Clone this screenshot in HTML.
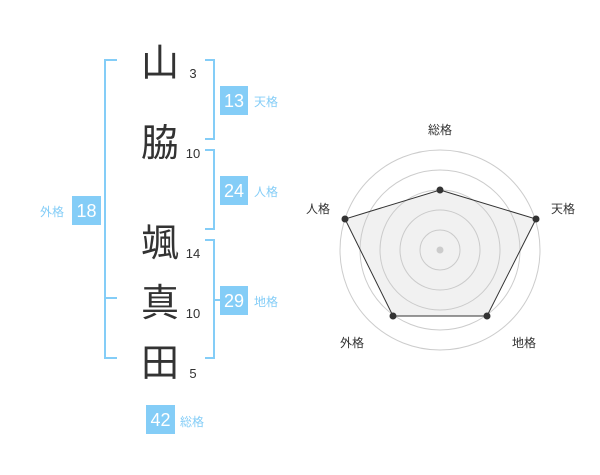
<!DOCTYPE html>
<html><head><meta charset="utf-8"><style>
body{margin:0;background:#fff;width:600px;height:470px;overflow:hidden;font-family:"Liberation Sans","Noto Sans CJK JP",sans-serif}
</style></head><body>
<svg width="600" height="470" xmlns="http://www.w3.org/2000/svg" font-family="Liberation Sans, Noto Sans CJK JP, sans-serif">
<g stroke="#84cdf7" stroke-width="2" fill="none">
<path d="M117 60H105V358H117M105 298H117"/>
<path d="M205 60H214V139H205"/>
<path d="M205 150H214V229H205"/>
<path d="M205 240H214V358H205M214 300H222"/>
</g>
<g fill="#333" font-size="38" text-anchor="middle">
<text x="160" y="76">山</text>
<text x="160" y="156">脇</text>
<text x="160" y="256">颯</text>
<text x="160" y="316">真</text>
<text x="160" y="376">田</text>
</g>
<g fill="#333" font-size="13" text-anchor="middle">
<text x="193" y="78">3</text>
<text x="193" y="158">10</text>
<text x="193" y="258">14</text>
<text x="193" y="318">10</text>
<text x="193" y="378">5</text>
</g>
<g fill="#84cdf7">
<rect x="72" y="196" width="29" height="29"/>
<rect x="220" y="86" width="28" height="29"/>
<rect x="220" y="176" width="28" height="29"/>
<rect x="220" y="286" width="28" height="29"/>
<rect x="146" y="405" width="29" height="29"/>
</g>
<g fill="#fff" font-size="18" text-anchor="middle">
<text x="86.5" y="217">18</text>
<text x="234" y="107">13</text>
<text x="234" y="197">24</text>
<text x="234" y="307">29</text>
<text x="160.5" y="426">42</text>
</g>
<g fill="#84cdf7" font-size="12">
<text x="40" y="216">外格</text>
<text x="254" y="106">天格</text>
<text x="254" y="196">人格</text>
<text x="254" y="306">地格</text>
<text x="180" y="426">総格</text>
</g>
<g fill="none" stroke="#ccc" stroke-width="1">
<circle cx="440" cy="250" r="20"/><circle cx="440" cy="250" r="40"/><circle cx="440" cy="250" r="60"/><circle cx="440" cy="250" r="80"/><circle cx="440" cy="250" r="100"/>
</g>
<polygon points="440,190 536,219 487,316 393,316 345,219" fill="rgba(200,200,200,0.25)" stroke="#333" stroke-width="1"/>
<circle cx="440" cy="250" r="3.5" fill="#ccc"/>
<g fill="#333">
<circle cx="440" cy="190" r="3.5"/><circle cx="536" cy="219" r="3.5"/><circle cx="487" cy="316" r="3.5"/><circle cx="393" cy="316" r="3.5"/><circle cx="345" cy="219" r="3.5"/>
</g>
<g fill="#333" font-size="12" text-anchor="middle">
<text x="440" y="134">総格</text>
<text x="563" y="213">天格</text>
<text x="524" y="347">地格</text>
<text x="352" y="347">外格</text>
<text x="318" y="213">人格</text>
</g>
</svg>
</body></html>
